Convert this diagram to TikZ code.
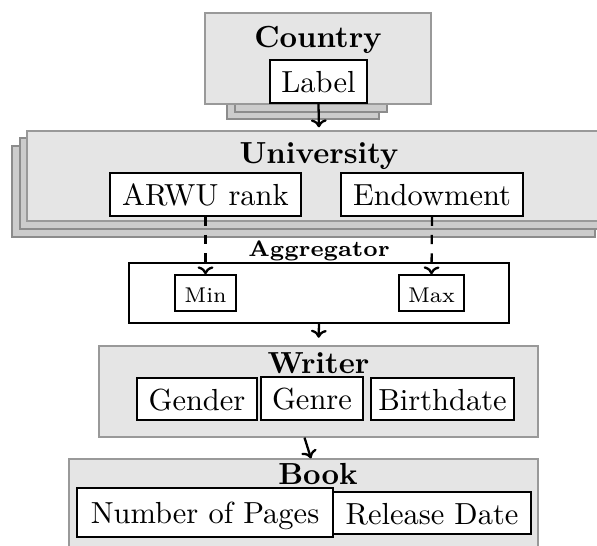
\documentclass[tikz,border=0pt]{standalone}
\usetikzlibrary{arrows.meta}
% one drawing unit = one pixel of the final image
\newcommand\pxu{0.328pt}
\tikzset{
  x=0.328pt, y=-0.328pt,
  entity/.style={draw=black!40, fill=black!10, line width=0.4pt, inner sep=0pt},
  layer/.style={draw=black!45, fill=black!20, line width=0.4pt},
  attr/.style={draw=black, fill=white, line width=0.45pt, inner sep=0pt,
               text height=7.4pt, text depth=0pt},
  op/.style={attr, font=\scriptsize, text height=6pt},
  groupbox/.style={draw=black, fill=white, line width=0.45pt, inner sep=0pt},
  title/.style={font=\bfseries, anchor=base, inner sep=0pt},
  link/.style={-{Computer Modern Rightarrow[width=5.2pt,length=2.6pt]}, line width=0.75pt},
}
\begin{document}
\begin{tikzpicture}
\useasboundingbox (0,0) rectangle (597,546);
\clip (0,0) rectangle (597,546);

% Country, with two stacked copies behind it
\draw[layer] (227,30) rectangle (379,119);
\draw[layer] (235,24) rectangle (387,112);
\node[entity, minimum width=226*\pxu, minimum height=91*\pxu] (country) at (318,58.5) {};
\node[title] (countryname) at (318,48) {Country};
\node[attr, minimum width=97*\pxu, minimum height=43*\pxu] (label) at (318.5,81.5) {Label};

% University, with two stacked copies behind it
\draw[layer] (12,146) rectangle (595,237);
\draw[layer] (20,138) rectangle (603,229);
\node[entity, minimum width=584*\pxu, minimum height=90*\pxu] (uni) at (319,176) {};
\node[title] (uniname) at (319,164) {University};
\node[attr, minimum width=191*\pxu, minimum height=43*\pxu] (arwu) at (205.5,194.5) {ARWU rank};
\node[attr, minimum width=182*\pxu, minimum height=43*\pxu] (endow) at (432,194.5) {Endowment};

% Aggregator
\node[title, font=\fontsize{7.3}{9}\selectfont\bfseries] (aggname) at (319,257) {Aggregator};
\node[groupbox, minimum width=380*\pxu, minimum height=60*\pxu] (agg) at (319,293) {};
\node[op, minimum width=61*\pxu, minimum height=36*\pxu] (min) at (205.5,293) {Min};
\node[op, minimum width=65*\pxu, minimum height=36*\pxu] (max) at (431.5,293) {Max};

% Writer
\node[entity, minimum width=439*\pxu, minimum height=91*\pxu] (writer) at (318.5,391.5) {};
\node[title] (writername) at (318.5,374) {Writer};
\node[attr, minimum width=120*\pxu, minimum height=42*\pxu] (gender) at (197,399) {Gender};
\node[attr, minimum width=102*\pxu, minimum height=43*\pxu] (genre) at (312,398.5) {Genre};
\node[attr, minimum width=143*\pxu, minimum height=42*\pxu] (birth) at (442.5,399) {Birthdate};

% Book
\node[entity, minimum width=469*\pxu, minimum height=101*\pxu] (book) at (303.5,509.5) {};
\node[title] (bookname) at (318,485) {Book};
\node[attr, minimum width=198*\pxu, minimum height=42*\pxu] (release) at (432,513) {Release Date};
\node[attr, minimum width=256*\pxu, minimum height=49*\pxu] (pages) at (205,512.5) {Number of Pages};

% connectors
\draw[link, shorten >=1pt] (label.south) -- (uni.north);
\draw[link, dashed] (arwu.south) -- (min.north);
\draw[link, dashed] (endow.south) -- (max.north);
\draw[link, shorten >=2.5pt] (agg.south) -- (writer.north);
\draw[link] ([xshift=-14*\pxu]writer.south) -- ([xshift=7.5*\pxu]book.north);
\end{tikzpicture}
\end{document}
